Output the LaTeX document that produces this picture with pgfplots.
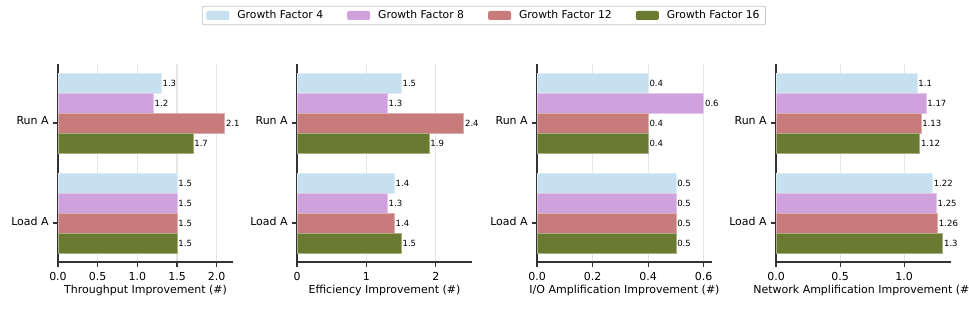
\documentclass[border=0pt]{standalone}
\usepackage{fontspec}
\setmainfont{DejaVu Sans}
\usepackage{pgfplots}
\pgfplotsset{compat=1.18}

\definecolor{gfA}{HTML}{C6E0EF}
\definecolor{gfB}{HTML}{CFA1DD}
\definecolor{gfC}{HTML}{C77C7B}
\definecolor{gfD}{HTML}{6B7A31}
\definecolor{spine}{HTML}{333333}
\definecolor{gridc}{HTML}{E6E6E6}

\pgfplotsset{
  gfpanel/.style={
    xbar, scale only axis, width=175bp, height=198bp, anchor=south west,
    bar width=0.2,
    ymin=-0.39, ymax=1.59, xmin=0,
    ytick={0,1}, yticklabels={Load A, Run A},
    axis x line*=bottom, axis y line*=left,
    axis line style={spine, line width=1.1bp, -},
    tick align=outside, major tick length=4.9bp,
    every tick/.style={spine, line width=1.1bp},
    xmajorgrids, major grid style={gridc, line width=1.1bp},
    font=\fontsize{11bp}{13bp}\selectfont,
    /pgf/number format/assume math mode=true,
    xticklabel style={inner sep=0pt, yshift=-4.9bp},
    yticklabel style={inner sep=0pt, xshift=-4.2bp, yshift=2bp},
    xlabel style={at={(axis description cs:0.5,-0.1414)}, anchor=center, inner sep=0pt},
    nodes near coords,
    every node near coord/.append style={font=\fontsize{8.5bp}{10bp}\selectfont, anchor=west, inner sep=1.2bp, black},
    every axis plot/.append style={line width=0.5bp},
    set layers, axis on top=false,
  },
  sA/.style={fill=gfA, draw=white!40!gfA, bar shift=0.4},
  sB/.style={fill=gfB, draw=white!40!gfB, bar shift=0.2},
  sC/.style={fill=gfC, draw=white!40!gfC, bar shift=0},
  sD/.style={fill=gfD, draw=white!40!gfD, bar shift=-0.2},
}

\begin{document}
\begin{tikzpicture}
% panel 1
\begin{axis}[gfpanel, at={(58bp,-262bp)}, xmax=2.205,
  xtick={0,0.5,1,1.5,2},
  xticklabel style={/pgf/number format/.cd, fixed, fixed zerofill, precision=1},
  xlabel={Throughput Improvement (\#)},
  legend style={at={(2.434,1.245)}, anchor=center, legend columns=4,
    draw=gridc!70!gray, line width=0.8bp, rounded corners=2bp,
    font=\fontsize{10.8bp}{13bp}\selectfont, inner xsep=4bp, inner ysep=2.5bp,
    /tikz/every odd column/.append style={column sep=6bp},
    /tikz/every even column/.append style={column sep=22bp}},
  legend image code/.code={\draw[#1, draw=none] (0bp,-4.5bp) rectangle (23bp,4.5bp);},
]
\addplot[sA] coordinates {(1.3,1) (1.5,0)};
\addplot[sB] coordinates {(1.2,1) (1.5,0)};
\addplot[sC] coordinates {(2.1,1) (1.5,0)};
\addplot[sD] coordinates {(1.7,1) (1.5,0)};
\legend{Growth Factor 4, Growth Factor 8, Growth Factor 12, Growth Factor 16}
\end{axis}
% panel 2
\begin{axis}[gfpanel, at={(297bp,-262bp)}, xmax=2.52,
  xtick={0,1,2},
  xlabel={Efficiency Improvement (\#)},
]
\addplot[sA] coordinates {(1.5,1) (1.4,0)};
\addplot[sB] coordinates {(1.3,1) (1.3,0)};
\addplot[sC] coordinates {(2.4,1) (1.4,0)};
\addplot[sD] coordinates {(1.9,1) (1.5,0)};
\end{axis}
% panel 3
\begin{axis}[gfpanel, at={(537bp,-262bp)}, xmax=0.63,
  xtick={0,0.2,0.4,0.6},
  xticklabel style={/pgf/number format/.cd, fixed, fixed zerofill, precision=1},
  xlabel={I/O Amplification Improvement (\#)},
]
\addplot[sA] coordinates {(0.4,1) (0.5,0)};
\addplot[sB] coordinates {(0.6,1) (0.5,0)};
\addplot[sC] coordinates {(0.4,1) (0.5,0)};
\addplot[sD] coordinates {(0.4,1) (0.5,0)};
\end{axis}
% panel 4
\begin{axis}[gfpanel, at={(776bp,-262bp)}, xmax=1.365,
  xtick={0,0.5,1},
  xticklabel style={/pgf/number format/.cd, fixed, fixed zerofill, precision=1},
  xlabel={Network Amplification Improvement (\#)},
]
\addplot[sA] coordinates {(1.1,1) (1.22,0)};
\addplot[sB] coordinates {(1.17,1) (1.25,0)};
\addplot[sC] coordinates {(1.13,1) (1.26,0)};
\addplot[sD] coordinates {(1.12,1) (1.3,0)};
\end{axis}
\pgfresetboundingbox
\path[use as bounding box] (0bp,0bp) rectangle (969bp,-323bp);
\end{tikzpicture}
\end{document}
